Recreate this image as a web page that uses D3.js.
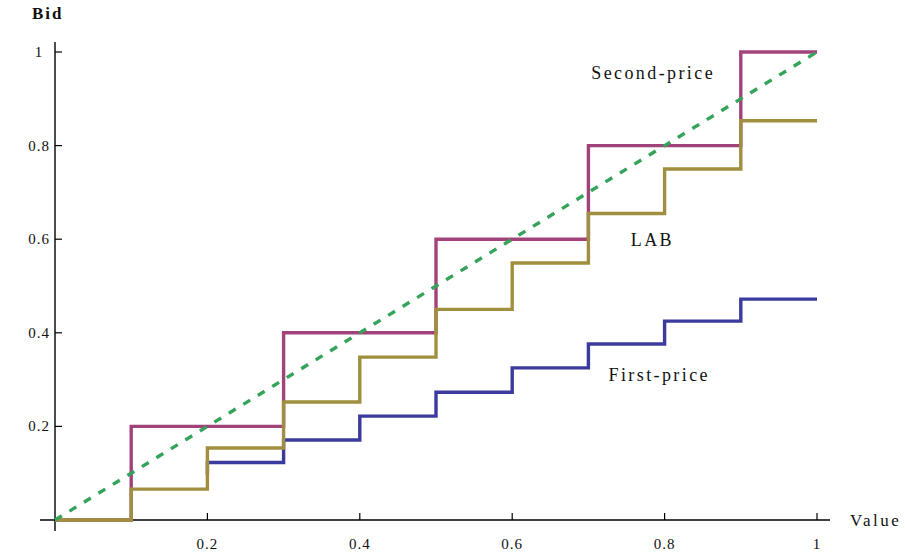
<!DOCTYPE html>
<html>
<head>
<meta charset="utf-8">
<script src="https://cdn.jsdelivr.net/npm/d3@7"></script>
<style>
  body { margin: 0; background: #fff; }
  text { font-family: "Liberation Serif", "DejaVu Serif", serif; fill: #111; }
</style>
</head>
<body>
<div id="chart"></div>
<script>
//Data
var stepStarts = [0, 0.1, 0.2, 0.3, 0.4, 0.5, 0.6, 0.7, 0.8, 0.9];
var secondPriceBids = [0, 0.2, 0.2, 0.4, 0.4, 0.6, 0.6, 0.8, 0.8, 1.0];
var labBids = [0, 0.066, 0.154, 0.252, 0.348, 0.45, 0.549, 0.655, 0.75, 0.853];
var firstPriceStarts = [0.2, 0.2, 0.3, 0.4, 0.5, 0.6, 0.7, 0.8, 0.9];
var firstPriceBids = [0.097, 0.123, 0.171, 0.222, 0.273, 0.325, 0.376, 0.425, 0.472];
var diagonal = [[0, 0], [1, 1]];
var xTicks = [0.2, 0.4, 0.6, 0.8, 1];
var yTicks = [0.2, 0.4, 0.6, 0.8, 1];
var labels = [
  { text: 'Second-price', x: 0.785, y: 0.955 },
  { text: 'LAB', x: 0.784, y: 0.598 },
  { text: 'First-price', x: 0.793, y: 0.31 }
];

var width = 905, height = 554;
var x = d3.scaleLinear().domain([0, 1]).range([55, 817]);
var y = d3.scaleLinear().domain([0, 1]).range([520, 52]);

var svg = d3.select('#chart').append('svg').attr('width', width).attr('height', height);

//Axes
svg.append('line').attr('x1', 40).attr('x2', 830).attr('y1', y(0)).attr('y2', y(0))
  .attr('stroke', '#000').attr('stroke-width', 1.4);
svg.append('line').attr('x1', x(0)).attr('x2', x(0)).attr('y1', 42).attr('y2', 531)
  .attr('stroke', '#000').attr('stroke-width', 1.4);

svg.selectAll('.xtick').data(xTicks).enter().append('line')
  .attr('x1', function(d){ return x(d); }).attr('x2', function(d){ return x(d); })
  .attr('y1', y(0)).attr('y2', y(0) - 7).attr('stroke', '#000').attr('stroke-width', 1.2);
svg.selectAll('.xlabel').data(xTicks).enter().append('text')
  .attr('x', function(d){ return x(d); }).attr('y', 549)
  .attr('text-anchor', 'middle').style('font-size', '15px').style('letter-spacing', '1px')
  .text(function(d){ return d === 1 ? '1' : d.toFixed(1); });

svg.selectAll('.ytick').data(yTicks).enter().append('line')
  .attr('x1', x(0)).attr('x2', x(0) + 7)
  .attr('y1', function(d){ return y(d); }).attr('y2', function(d){ return y(d); })
  .attr('stroke', '#000').attr('stroke-width', 1.2);
svg.selectAll('.ylabel').data(yTicks).enter().append('text')
  .attr('x', 39).attr('y', function(d){ return y(d) + 5; })
  .attr('text-anchor', 'middle').style('font-size', '15px').style('letter-spacing', '1px')
  .text(function(d){ return d === 1 ? '1' : d.toFixed(1); });

svg.append('text').attr('x', 32).attr('y', 19).style('font-size', '17px')
  .style('font-weight', 'bold').style('letter-spacing', '2px').text('Bid');
svg.append('text').attr('x', 850).attr('y', 526).style('font-size', '17px')
  .style('letter-spacing', '2.5px').text('Value');

//Step lines
var stepLine = d3.line().curve(d3.curveStepAfter)
  .x(function(d){ return x(d[0]); }).y(function(d){ return y(d[1]); });
var toPoints = function(starts, bids){
  var pts = starts.map(function(s, i){ return [s, bids[i]]; });
  pts.push([1, bids[bids.length - 1]]);
  return pts;
};

var series = [
  { pts: toPoints(firstPriceStarts, firstPriceBids), color: '#3b3b9e' },
  { pts: toPoints(stepStarts, secondPriceBids), color: '#a1437a' },
  { pts: toPoints(stepStarts, labBids), color: '#a08f3e' }
];
series.forEach(function(s){
  svg.append('path').attr('d', stepLine(s.pts)).attr('fill', 'none')
    .attr('stroke', s.color).attr('stroke-width', 3.4).attr('stroke-linejoin', 'miter');
});

svg.append('path').attr('d', d3.line().x(function(d){ return x(d[0]); }).y(function(d){ return y(d[1]); })(diagonal))
  .attr('fill', 'none').attr('stroke', '#35a35a').attr('stroke-width', 3.4)
  .attr('stroke-dasharray', '8,9');

//Labels
svg.selectAll('.lbl').data(labels).enter().append('text')
  .attr('x', function(d){ return x(d.x); }).attr('y', function(d){ return y(d.y) + 6; })
  .attr('text-anchor', 'middle').style('font-size', '18px').style('letter-spacing', '2.4px')
  .text(function(d){ return d.text; });
</script>
</body>
</html>
